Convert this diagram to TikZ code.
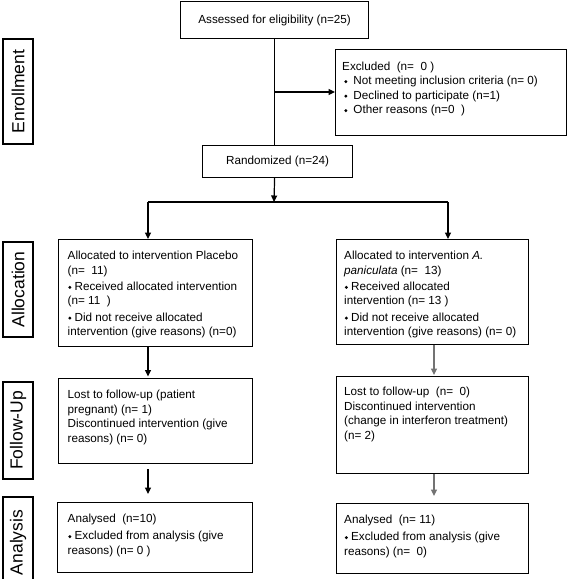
\documentclass[tikz,border=0pt]{standalone}
\usepackage{fontspec}
\setmainfont{Liberation Sans}
\usetikzlibrary{arrows.meta}
\definecolor{arrgray}{gray}{0.45}
\newcommand{\bul}{\hspace{0.5pt}\raisebox{1.4pt}{\rotatebox{45}{\rule{2.3pt}{2.3pt}}}\hspace{3.2pt}}
\newcommand{\exbul}{\hspace{2pt}\raisebox{1.4pt}{\rotatebox{45}{\rule{2.3pt}{2.3pt}}}\hspace{6pt}}
\begin{document}
\begin{tikzpicture}[x=1pt,y=-1pt,
  box/.style={draw, line width=1.2pt, rectangle, inner sep=0pt, anchor=north west},
  txt/.style={anchor=north west, inner sep=0pt, align=left, font=\fontsize{11.7}{14.5}\selectfont},
  ctxt/.style={font=\fontsize{11.7}{14.5}\selectfont},
  lab/.style={draw, line width=1.2pt, rectangle, inner sep=0pt, rotate=90, minimum height=30pt, font=\fontsize{17.5}{20}\selectfont},
  ln/.style={line width=1.2pt},
  arr/.style={line width=1.2pt, -{Triangle[length=6.5pt,width=6pt]}},
  garr/.style={arr, draw=arrgray}
]
\fill[white] (0,0) rectangle (567,579);
\useasboundingbox (0,0) rectangle (567,579);

% stage labels
\node[lab, minimum width=105pt] (enr) at (18,91.5) {Enrollment};
\node[lab, minimum width=95pt] (all) at (18,289.5) {Allocation};
\node[lab, minimum width=97pt] (fol) at (18,430.5) {Follow-Up};
\node[lab, minimum width=91pt] (ana) at (18,542.5) {Analysis};

% enrollment
\node[box, ctxt, minimum width=188pt, minimum height=37pt] (assess) at (180,1) {Assessed for eligibility (n=25)};
\node[box, minimum width=231pt, minimum height=86pt] (excl) at (335,49) {};
\node[txt] (excltxt) at (342,61.5) {Excluded\ \ (n=\ \ 0 )\\
\exbul Not meeting inclusion criteria (n= 0)\\
\exbul Declined to participate (n=1)\\
\exbul Other reasons (n=0\ \ )};
\node[box, ctxt, minimum width=150pt, minimum height=32pt] (rand) at (202,145) {Randomized (n=24)};

% allocation
\node[box, minimum width=194pt, minimum height=107pt] (allocL) at (58,239) {};
\node[txt] (allocLtxt) at (67.5,251) {Allocated to intervention Placebo\\
(n=\ \ 11)\\[1.7pt]
\bul Received allocated intervention\\
(n= 11\ \ )\\[1.7pt]
\bul Did not receive allocated\\
intervention (give reasons) (n=0)};
\node[box, minimum width=192pt, minimum height=105pt] (allocR) at (336,239) {};
\node[txt] (allocRtxt) at (344,251) {Allocated to intervention \textit{A.}\\
\textit{paniculata} (n=\ \ 13)\\[1.7pt]
\bul Received allocated\\
intervention (n= 13 )\\[1.7pt]
\bul Did not receive allocated\\
intervention (give reasons) (n= 0)};

% follow-up
\node[box, minimum width=194pt, minimum height=85pt] (fuL) at (58,378) {};
\node[txt] (fuLtxt) at (67.5,390) {Lost to follow-up (patient\\
pregnant) (n= 1)\\
Discontinued intervention (give\\
reasons) (n= 0)};
\node[box, minimum width=192pt, minimum height=97pt] (fuR) at (336,376) {};
\node[txt] (fuRtxt) at (344,387) {Lost to follow-up\ \ (n=\ \ 0)\\
Discontinued intervention\\
(change in interferon treatment)\\
(n= 2)};

% analysis
\node[box, minimum width=195pt, minimum height=70pt] (anL) at (57,502) {};
\node[txt] (anLtxt) at (67.5,514) {Analysed\ \ (n=10)\\[2.5pt]
\bul Excluded from analysis (give\\
reasons) (n= 0 )};
\node[box, minimum width=192pt, minimum height=70pt] (anR) at (336,503) {};
\node[txt] (anRtxt) at (344,515) {Analysed\ \ (n= 11)\\[2.5pt]
\bul Excluded from analysis (give\\
reasons) (n=\ \ 0)};

% connectors
\coordinate (br) at (274,92);
\coordinate (split) at (274,202);
\coordinate (sl) at (148,202);
\coordinate (sr) at (448,202);
\coordinate (rc) at (434,0);
\coordinate (fuLgap) at (148,469);
\coordinate (anLtip) at (148,494);
\coordinate (anRtip) at (434,496);

\draw[ln] (assess.south) -- (assess.south |- rand.north);
\draw[arr] (br) -- (br -| excl.west);
\draw[arr] (assess.south |- rand.south) -- (split);
\draw[ln] (sl) -- (sr);
\draw[arr] (sl) -- (sl |- allocL.north);
\draw[arr] (sr) -- (sr |- allocR.north);
\draw[arr] (allocL.south -| sl) -- ([yshift=1.5pt]fuL.north -| sl);
\draw[garr] (allocR.south -| rc) -- ([yshift=1pt]fuR.north -| rc);
\draw[arr] (fuLgap) -- (anLtip);
\draw[garr] (fuR.south -| rc) -- (anRtip);
\end{tikzpicture}
\end{document}
